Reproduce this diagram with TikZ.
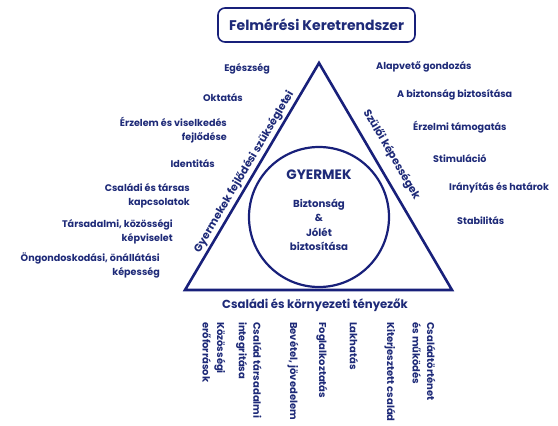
\documentclass[tikz,border=0pt]{standalone}
\usepackage{fontspec}
\setmainfont{Poppins}
\usetikzlibrary{calc}
\definecolor{navy}{HTML}{1E2A78}
\definecolor{linenavy}{HTML}{18207A}
\tikzset{l/.style={font=\bfseries\fontsize{9.6}{14}\selectfont, text=navy, inner sep=0pt}}
\tikzset{m/.style={font=\bfseries\fontsize{11.7}{14}\selectfont, text=navy, inner sep=0pt}}
\tikzset{v/.style={font=\bfseries\fontsize{10}{14.5}\selectfont, text=navy, inner sep=0pt}}

\begin{document}
\begin{tikzpicture}[x=1pt, y=-1pt]
  \useasboundingbox (0,0) rectangle (558,426);
  % title box
  \node[m, font=\bfseries\fontsize{14}{14}\selectfont, draw=linenavy, line width=1.6pt, rounded corners=7pt,
    minimum width=197pt, minimum height=34pt] (title) at (316.5,25) {Felmérési Keretrendszer};
  % triangle
  \coordinate (top) at (319,63);
  \coordinate (bl) at (185,290);
  \coordinate (br) at (452,290);
  \draw[linenavy, line width=2.6pt, line join=miter] (bl) -- (top) -- (br) -- cycle;
  \path (bl) -- (top) node [m, font=\bfseries\fontsize{10.8}{14}\selectfont, pos=.5, sloped, above=3pt] (needs) {Gyermekek fejlődési szükségletei};
  \path (top) -- (br) node [m, font=\bfseries\fontsize{10.8}{14}\selectfont, pos=.44, sloped, above=10pt] (parents) {Szülői képességek};
  % child
  \node[circle, draw=linenavy, line width=2.2pt, minimum size=140pt] (child) at (319,217) {};
  \node[m, font=\bfseries\fontsize{13.6}{14}\selectfont] (gyermek) at (319,175) {GYERMEK};
  \node[l, align=center, font=\bfseries\fontsize{10.2}{14.5}\selectfont] (safety) at (319,225)
    {Biztonság\\\&\\Jólét\\biztosítása};
  % left: needs
  \node[l, anchor=east] (health) at (270,69) {Egészség};
  \node[l, anchor=east] (edu) at (243,98) {Oktatás};
  \node[l, anchor=east, align=right] (emo) at (227,130) {Érzelem és viselkedés\\fejlődése};
  \node[l, anchor=east] (ident) at (215,164) {Identitás};
  \node[l, anchor=east, align=right] (rel) at (190,196) {Családi és társas\\kapcsolatok};
  \node[l, anchor=east, align=right] (soc) at (173,232) {Társadalmi, közösségi\\képviselet};
  \node[l, anchor=east, align=right] (self) at (160,265.5) {Öngondoskodási, önállátási\\képesség};
  % right: parenting
  \node[l, anchor=west] (care) at (376,67) {Alapvető gondozás};
  \node[l, anchor=west] (safe) at (397,95) {A biztonság biztosítása};
  \node[l, anchor=west] (warm) at (413,127) {Érzelmi támogatás};
  \node[l, anchor=west] (stim) at (433,159) {Stimuláció};
  \node[l, anchor=west] (guide) at (449,188) {Irányítás és határok};
  \node[l, anchor=west] (stab) at (457,221) {Stabilitás};
  % bottom: family and environment
  \node[m] (env) at (315,305) {Családi és környezeti tényezők};
  \foreach \x/\name/\txt in {214/res/{Közösségi\\erőforrások},
      249/integ/{Család társadalmi\\integritása},
      293/income/{Bevétel, jövedelem},
      322/work/{Foglalkoztatás},
      354/house/{Lakhatás},
      390/wider/{Kiterjesztett család},
      424/hist/{Családtörténet\\és működés}}
    \node[v, rotate=-90, anchor=west, align=left] (\name) at (\x,322) {\txt};
\end{tikzpicture}
\end{document}
